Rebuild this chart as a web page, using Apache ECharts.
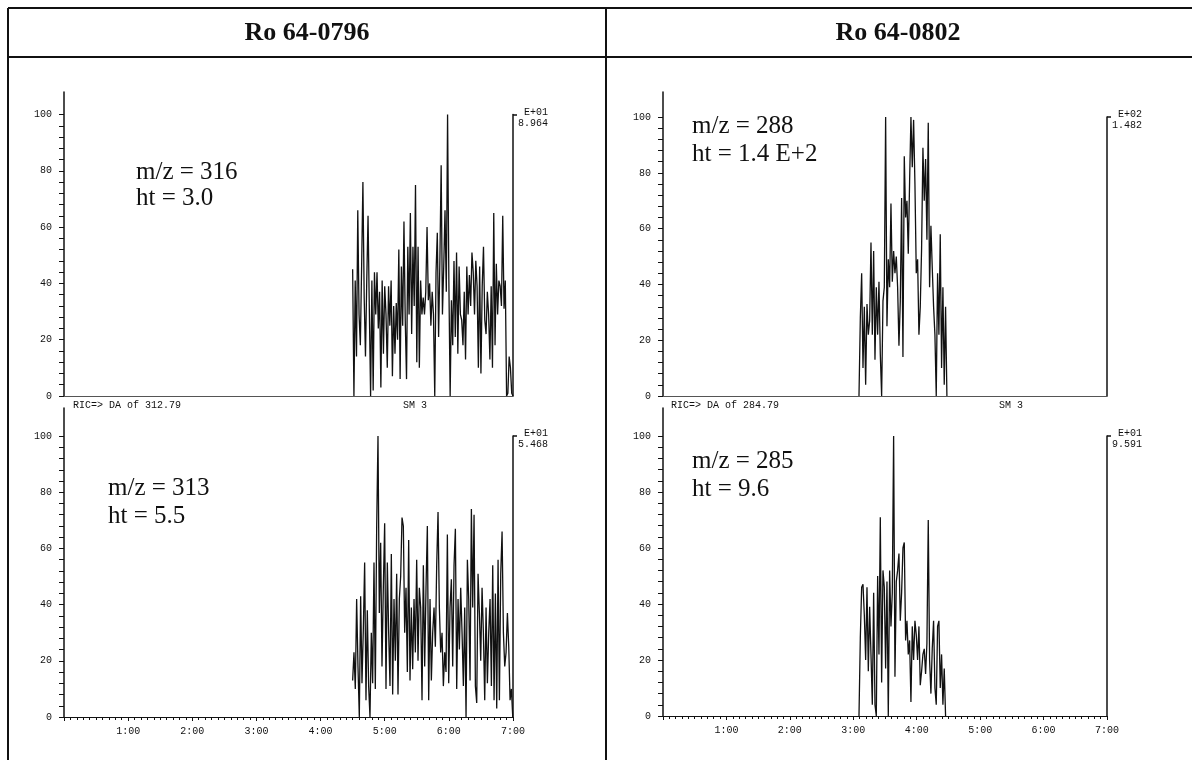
<!DOCTYPE html>
<html>
<head>
<meta charset="utf-8">
<script src="https://cdn.jsdelivr.net/npm/echarts@6/dist/echarts.min.js"></script>
<style>
  html, body { margin: 0; padding: 0; background: #fff; }
  #chart { width: 1192px; height: 760px; }
</style>
</head>
<body>
<div id="chart"></div>
<script>
// axis ticks: time in minutes, intensity in % of the largest peak
const timeTicks = [1, 2, 3, 4, 5, 6, 7]
const yLabelValues = [0, 20, 40, 60, 80, 100]
const yTickValues = [0, 4, 8, 12, 16, 20, 24, 28, 32, 36, 40, 44, 48, 52, 56, 60,
  64, 68, 72, 76, 80, 84, 88, 92, 96, 100]

// Ro 64-0796, m/z 316 (scans from 4.50 min, 0.02 min apart)
const start316 = 4.5
const step316 = 0.02
const int316 = [
  45, 0, 41, 14, 66, 29, 18, 46, 76, 35,
  14, 41, 64, 31, 0, 41, 2, 44, 29, 44,
  24, 37, 3, 41, 15, 39, 29, 10, 39, 25,
  41, 7, 32, 15, 33, 20, 52, 6, 46, 25,
  62, 27, 6, 53, 29, 65, 22, 53, 32, 75,
  12, 53, 10, 41, 29, 35, 29, 37, 60, 34,
  40, 25, 37, 29, 0, 44, 58, 21, 48, 82,
  29, 46, 66, 37, 100, 41, 0, 34, 18, 48,
  21, 51, 15, 46, 29, 27, 18, 37, 13, 46,
  29, 43, 32, 51, 44, 29, 48, 39, 10, 46,
  8, 39, 53, 27, 22, 37, 29, 13, 39, 10,
  65, 18, 47, 29, 41, 39, 32, 64, 31, 41,
  0, 1, 14, 10, 1, 0,
]

// Ro 64-0796, m/z 313
const start313 = 4.5
const step313 = 0.0208
const int313 = [
  13, 23, 10, 42, 18, 0, 43, 12, 31, 55,
  6, 38, 11, 0, 30, 12, 55, 10, 67, 100,
  37, 62, 18, 46, 69, 10, 55, 30, 11, 58,
  8, 42, 20, 51, 8, 42, 50, 71, 68, 30,
  46, 16, 63, 13, 39, 17, 42, 23, 56, 20,
  46, 39, 6, 54, 18, 46, 68, 6, 42, 13,
  30, 39, 25, 54, 73, 39, 23, 30, 11, 23,
  16, 65, 12, 39, 49, 18, 54, 67, 10, 42,
  24, 46, 30, 11, 39, 0, 56, 42, 13, 74,
  39, 72, 11, 5, 51, 37, 20, 46, 30, 6,
  39, 12, 30, 42, 11, 54, 6, 44, 3, 56,
  6, 51, 66, 30, 18, 23, 37, 25, 6, 10, 0,
]

// Ro 64-0802, m/z 288
const start288 = 3.09
const step288 = 0.021
const int288 = [
  0, 28, 44, 10, 32, 4, 33, 22, 27, 55,
  22, 52, 13, 39, 22, 41, 15, 0, 34, 39,
  100, 25, 49, 39, 69, 41, 52, 44, 50, 39,
  18, 34, 71, 14, 86, 64, 70, 51, 77, 100,
  82, 99, 76, 44, 49, 22, 32, 53, 89, 70,
  85, 56, 98, 39, 61, 46, 32, 22, 0, 44,
  22, 58, 10, 39, 4, 32, 0,
]

// Ro 64-0802, m/z 285
const start285 = 3.09
const step285 = 0.021
const int285 = [
  0, 28, 46, 47, 36, 20, 46, 16, 39, 22,
  4, 44, 4, 0, 50, 22, 71, 12, 52, 46,
  17, 48, 0, 52, 32, 44, 100, 14, 48, 52,
  58, 34, 44, 60, 62, 27, 34, 22, 27, 5,
  32, 20, 34, 29, 20, 32, 11, 16, 22, 24,
  15, 26, 70, 20, 8, 24, 34, 10, 4, 32,
  34, 10, 22, 4, 17, 0,
]

const toPoints = (start, step, values) => values.map((v, i) => [start + i * step, v])

const MONO = '"Liberation Mono", "DejaVu Sans Mono", monospace'
const SERIF = '"Liberation Serif", "DejaVu Serif", serif'
const INK = '#111'

const panels = [
  { left: 64, top: 92, width: 449, height: 304, yMax: 108, timeAxis: false,
    data: toPoints(start316, step316, int316), scale: ' E+01\n8.964' },
  { left: 64, top: 408, width: 449, height: 309, yMax: 110, timeAxis: true,
    data: toPoints(start313, step313, int313), scale: ' E+01\n5.468' },
  { left: 663, top: 92, width: 444, height: 304, yMax: 109, timeAxis: false,
    data: toPoints(start288, step288, int288), scale: ' E+02\n1.482' },
  { left: 663, top: 408, width: 444, height: 308, yMax: 110, timeAxis: true,
    data: toPoints(start285, step285, int285), scale: ' E+01\n9.591' },
]

const grid = []
const xAxis = []
const yAxis = []
const series = []
const scaleTexts = []

panels.forEach((p, i) => {
  grid.push({ left: p.left, top: p.top, width: p.width, height: p.height, outerBoundsMode: 'none' })
  xAxis.push({
    type: 'value', gridIndex: i, min: 0, max: 7, interval: 1,
    axisLine: { show: true, onZero: false, lineStyle: { color: p.timeAxis ? INK : '#555', width: 1 } },
    axisTick: { show: p.timeAxis, length: 4, lineStyle: { color: INK } },
    minorTick: { show: p.timeAxis, splitNumber: 10, length: 3, lineStyle: { color: INK } },
    axisLabel: {
      show: p.timeAxis, margin: 9, fontFamily: MONO, fontSize: 10, color: INK,
      customValues: timeTicks,
      formatter: (v) => v + ':00',
    },
    splitLine: { show: false },
  })
  yAxis.push({
    type: 'value', gridIndex: i, min: 0, max: p.yMax,
    axisLine: { show: true, onZero: false, lineStyle: { color: INK, width: 1.5 } },
    axisTick: { show: true, length: 5, customValues: yTickValues, lineStyle: { color: INK } },
    axisLabel: {
      show: true, margin: 12, fontFamily: MONO, fontSize: 10, color: INK,
      customValues: yLabelValues,
    },
    splitLine: { show: false },
  })
  series.push({
    type: 'line', xAxisIndex: i, yAxisIndex: i, data: p.data,
    symbol: 'none', smooth: false, clip: true,
    lineStyle: { color: INK, width: 1.3 },
    emphasis: { disabled: true },
  })
})

// full-scale brackets on the right of each trace, from 0 up to 100 %
panels.forEach((p, i) => {
  const bottom = p.top + p.height
  const top100 = bottom - p.height * 100 / p.yMax
  const gi = panels.length + i
  grid.push({ left: p.left, top: top100, width: p.width, height: bottom - top100, outerBoundsMode: 'none' })
  xAxis.push({ type: 'value', gridIndex: gi, min: 0, max: 7, show: false })
  yAxis.push({
    type: 'value', gridIndex: gi, position: 'right', min: 0, max: 100,
    axisLine: { show: true, onZero: false, lineStyle: { color: INK, width: 1.5 } },
    axisTick: { show: true, length: 4, customValues: [100], lineStyle: { color: INK, width: 1.5 } },
    axisLabel: { show: false },
    splitLine: { show: false },
  })
  scaleTexts.push({
    type: 'text', x: p.left + p.width + 5, y: top100 - 8,
    style: {
      text: p.scale, font: '10px ' + MONO, fill: INK, lineHeight: 11,
      align: 'left', verticalAlign: 'top',
    },
  })
})

const line = (x1, y1, x2, y2) => ({
  type: 'line', shape: { x1, y1, x2, y2 }, style: { stroke: INK, lineWidth: 2 },
})
const txt = (x, y, text, font, align) => ({
  type: 'text', x, y,
  style: { text, font, fill: INK, align: align || 'left', verticalAlign: 'middle' },
})

const big = '25px ' + SERIF
const small = '10px ' + MONO
const graphic = [
  line(8, 8, 1192, 8),
  line(8, 57, 1192, 57),
  line(8, 8, 8, 760),
  line(606, 8, 606, 760),
  txt(307, 33, 'Ro 64-0796', 'bold 26px ' + SERIF, 'center'),
  txt(898, 33, 'Ro 64-0802', 'bold 26px ' + SERIF, 'center'),
  txt(136, 172, 'm/z = 316', big),
  txt(136, 198, 'ht = 3.0', big),
  txt(108, 488, 'm/z = 313', big),
  txt(108, 516, 'ht = 5.5', big),
  txt(692, 126, 'm/z = 288', big),
  txt(692, 154, 'ht = 1.4 E+2', big),
  txt(692, 461, 'm/z = 285', big),
  txt(692, 489, 'ht = 9.6', big),
  txt(73, 405, 'RIC=> DA of 312.79', small),
  txt(403, 405, 'SM 3', small),
  txt(671, 405, 'RIC=> DA of 284.79', small),
  txt(999, 405, 'SM 3', small),
].concat(scaleTexts)

const chart = echarts.init(document.getElementById('chart'), null, { renderer: 'canvas' })
chart.setOption({
  animation: false,
  backgroundColor: '#fff',
  grid, xAxis, yAxis, series, graphic,
})
</script>
</body>
</html>
